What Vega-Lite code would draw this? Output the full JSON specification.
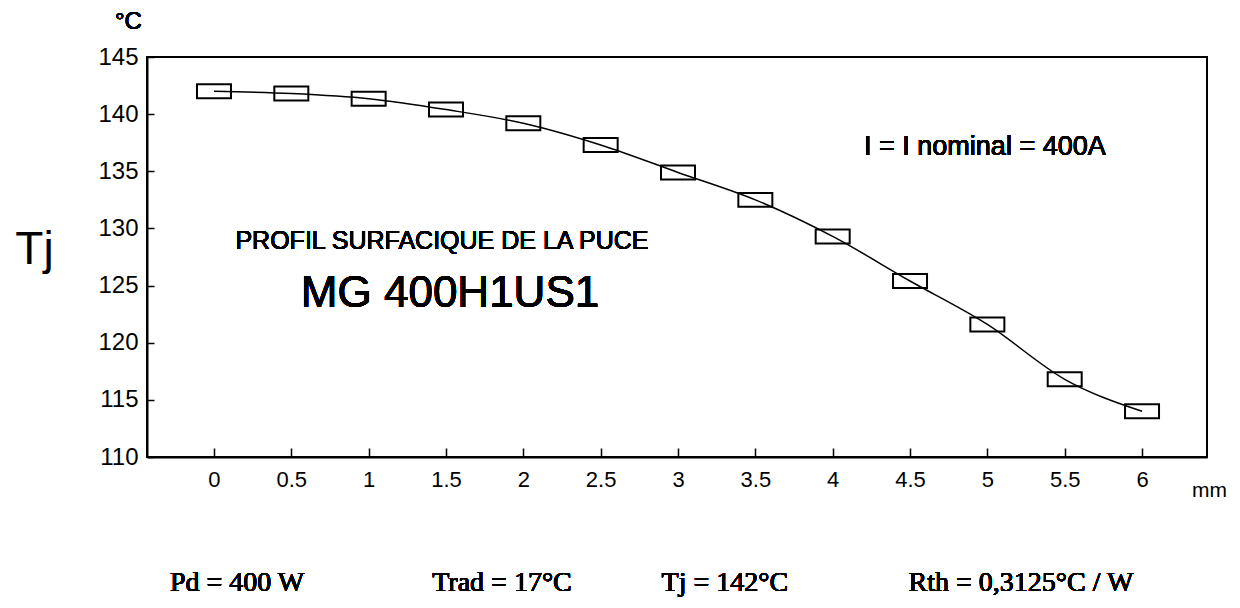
{
  "$schema": "https://vega.github.io/schema/vega-lite/v6.json",
  "width": 1060,
  "height": 400,
  "autosize": {"type": "none"},
  "padding": {"left": 147, "top": 57, "right": 33, "bottom": 151},
  "background": "white",
  "config": {
    "view": {"stroke": "black", "strokeWidth": 2},
    "font": "Liberation Sans",
    "axis": {
      "domainColor": "black",
      "domainWidth": 2,
      "tickColor": "black",
      "tickWidth": 1.5,
      "labelColor": "black",
      "titleColor": "black",
      "labelFont": "Liberation Sans",
      "titleFont": "Liberation Sans",
      "titleFontWeight": "normal",
      "grid": false,
      "labelOverlap": false,
      "labelBound": false,
      "labelFlush": false
    }
  },
  "data": {
    "values": [
      {"x": 0, "t": 142.0},
      {"x": 0.5, "t": 141.8},
      {"x": 1, "t": 141.35},
      {"x": 1.5, "t": 140.4},
      {"x": 2, "t": 139.2},
      {"x": 2.5, "t": 137.3},
      {"x": 3, "t": 134.9},
      {"x": 3.5, "t": 132.5},
      {"x": 4, "t": 129.3},
      {"x": 4.5, "t": 125.4},
      {"x": 5, "t": 121.6},
      {"x": 5.5, "t": 116.8},
      {"x": 6, "t": 114.0}
    ]
  },
  "encoding": {
    "x": {
      "field": "x",
      "type": "quantitative",
      "scale": {"domain": [-0.433, 6.42], "nice": false, "zero": false},
      "axis": {
        "values": [0, 0.5, 1, 1.5, 2, 2.5, 3, 3.5, 4, 4.5, 5, 5.5, 6],
        "format": "~g",
        "tickSize": -9,
        "labelPadding": 21,
        "labelFontSize": 22,
        "labelBaseline": "top",
        "title": "mm",
        "titleFontSize": 21,
        "titleX": 1062,
        "titleY": 33,
        "titleAlign": "center",
        "titleBaseline": "middle"
      }
    },
    "y": {
      "field": "t",
      "type": "quantitative",
      "scale": {"domain": [110, 145], "nice": false, "zero": false},
      "axis": {
        "values": [110, 115, 120, 125, 130, 135, 140, 145],
        "tickSize": -7,
        "labelPadding": 16,
        "labelFontSize": 24,
        "title": "Tj",
        "titleFontSize": 46,
        "titleAngle": 0,
        "titleX": -113,
        "titleY": 192,
        "titleAlign": "center",
        "titleBaseline": "middle"
      }
    }
  },
  "layer": [
    {
      "mark": {"type": "line", "interpolate": "monotone", "stroke": "black", "strokeWidth": 1.5}
    },
    {
      "mark": {
        "type": "point",
        "shape": "M-1,-0.41L1,-0.41L1,0.41L-1,0.41Z",
        "size": 1156,
        "filled": false,
        "stroke": "black",
        "strokeWidth": 2,
        "opacity": 1
      }
    },
    {
      "mark": {"type": "text", "font": "Liberation Sans", "fontSize": 27, "align": "center", "baseline": "middle", "color": "black"},
      "encoding": {"x": {"datum": 4.984}, "y": {"datum": 137.1}, "text": {"value": "I = I nominal = 400A"}}
    },
    {
      "mark": {"type": "text", "font": "Liberation Sans", "fontSize": 25, "align": "center", "baseline": "middle", "color": "black"},
      "encoding": {"x": {"datum": 1.474}, "y": {"datum": 128.86}, "text": {"value": "PROFIL SURFACIQUE DE LA PUCE"}}
    },
    {
      "mark": {"type": "text", "font": "Liberation Sans", "fontSize": 44, "align": "center", "baseline": "middle", "color": "black"},
      "encoding": {"x": {"datum": 1.526}, "y": {"datum": 124.22}, "text": {"value": "MG 400H1US1"}}
    },
    {
      "mark": {"type": "text", "font": "Liberation Sans", "fontSize": 24, "align": "center", "baseline": "middle", "color": "black"},
      "encoding": {"x": {"datum": -0.553}, "y": {"datum": 148.1}, "text": {"value": "°C"}}
    },
    {
      "mark": {"type": "text", "font": "Liberation Serif", "fontSize": 28, "align": "center", "baseline": "middle", "color": "black"},
      "encoding": {"x": {"datum": 0.149}, "y": {"datum": 99.0}, "text": {"value": "Pd = 400 W"}}
    },
    {
      "mark": {"type": "text", "font": "Liberation Serif", "fontSize": 28, "align": "center", "baseline": "middle", "color": "black"},
      "encoding": {"x": {"datum": 1.862}, "y": {"datum": 99.0}, "text": {"value": "Trad = 17°C"}}
    },
    {
      "mark": {"type": "text", "font": "Liberation Serif", "fontSize": 28, "align": "center", "baseline": "middle", "color": "black"},
      "encoding": {"x": {"datum": 3.303}, "y": {"datum": 99.0}, "text": {"value": "Tj = 142°C"}}
    },
    {
      "mark": {"type": "text", "font": "Liberation Serif", "fontSize": 28, "align": "center", "baseline": "middle", "color": "black"},
      "encoding": {"x": {"datum": 5.217}, "y": {"datum": 99.0}, "text": {"value": "Rth = 0,3125°C / W"}}
    }
  ]
}
